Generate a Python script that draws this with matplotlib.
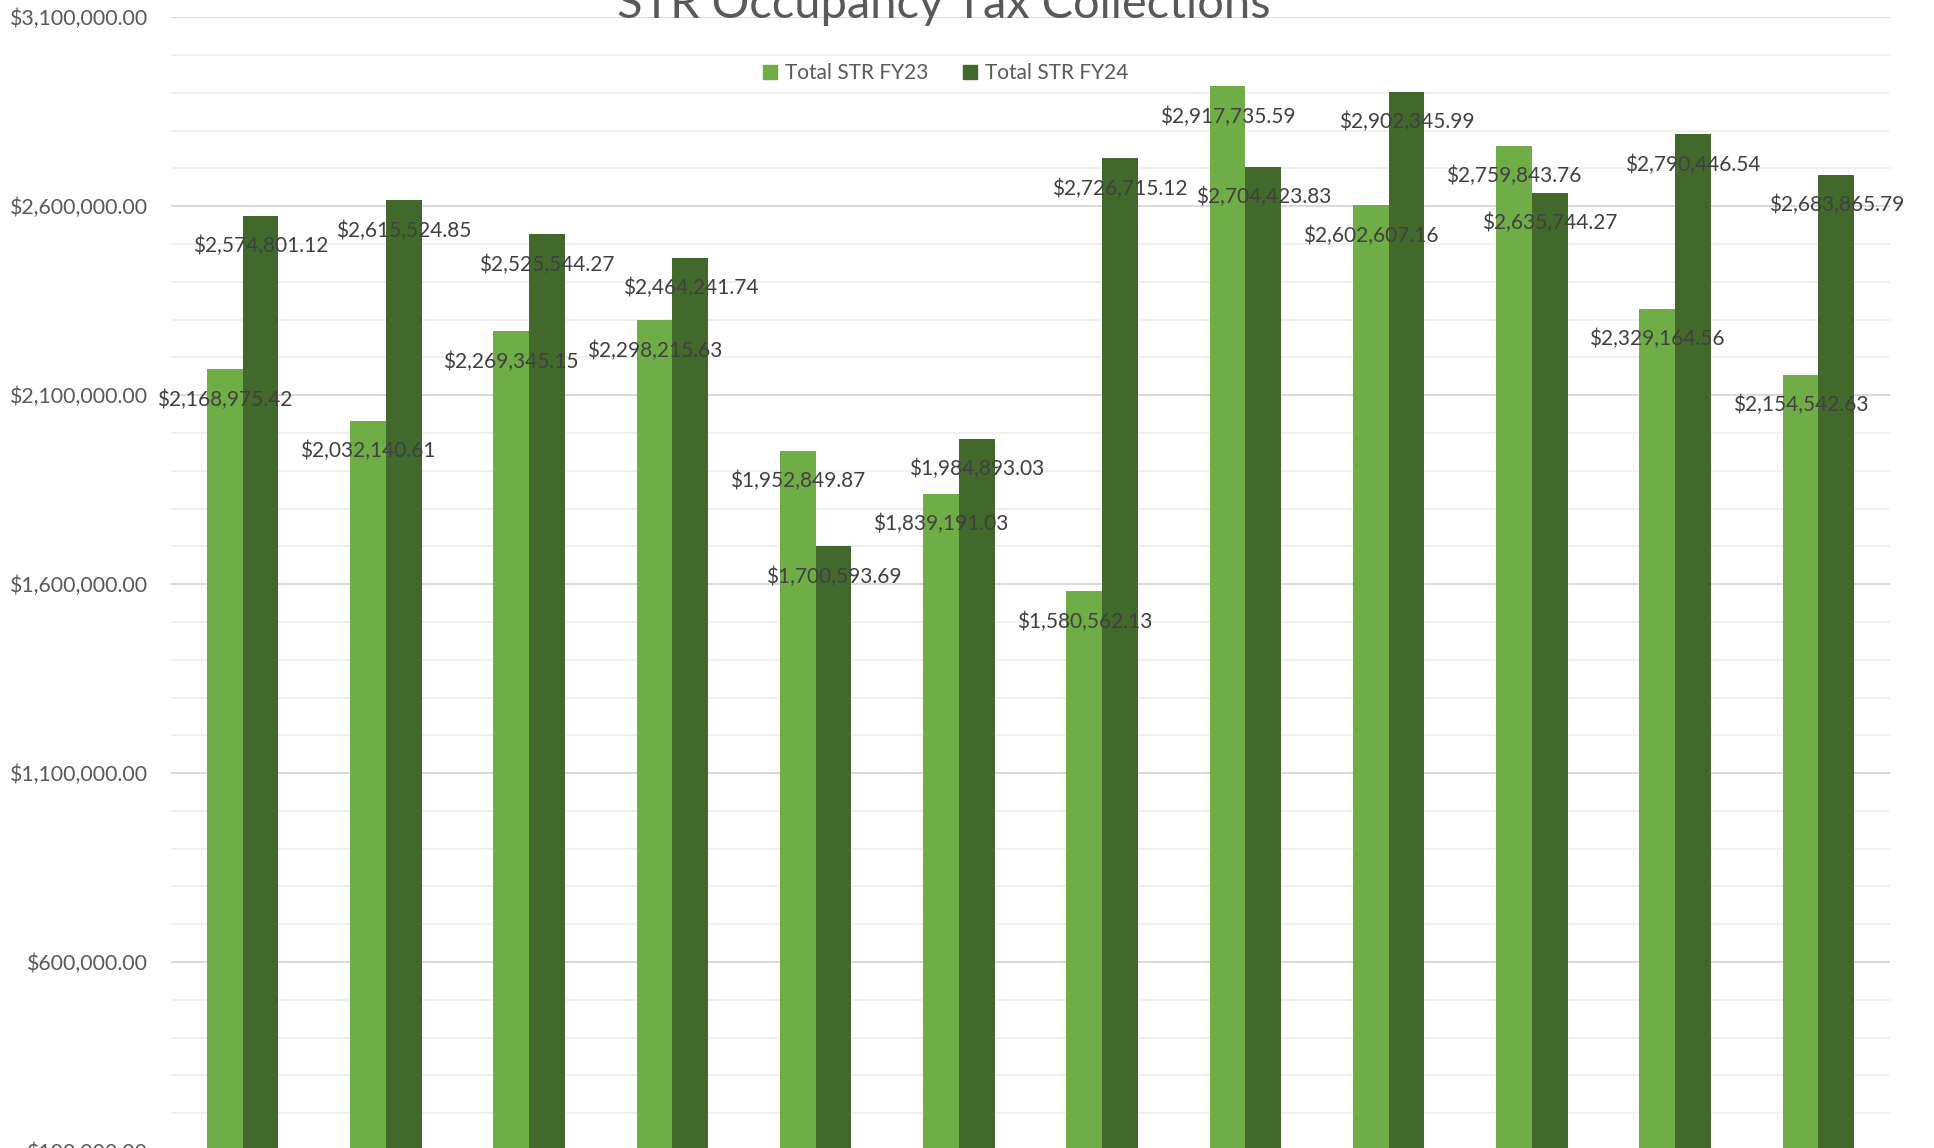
import matplotlib
matplotlib.use("Agg")
import matplotlib.pyplot as plt
from matplotlib.ticker import MultipleLocator, FuncFormatter
from matplotlib.lines import Line2D
import numpy as np

months = ["Jul", "Aug", "Sep", "Oct", "Nov", "Dec", "Jan", "Feb", "Mar", "Apr", "May", "Jun"]
fy23 = [2168975.42, 2032140.61, 2269345.15, 2298215.63, 1952849.87, 1839191.03,
        1580562.13, 2917735.59, 2602607.16, 2759843.76, 2329164.56, 2154542.63]
fy24 = [2574801.12, 2615524.85, 2525544.27, 2464241.74, 1700593.69, 1984893.03,
        2726715.12, 2704423.83, 2902345.99, 2635744.27, 2790446.54, 2683865.79]
series_names = ["Total STR FY23", "Total STR FY24"]
chart_title = "STR Occupancy Tax Collections"

C23 = "#70AD47"
C24 = "#43682B"
GRAY = "#595959"
LBL = "#404040"

plt.rcParams['font.family'] = ['Lato', 'DejaVu Sans']

fig = plt.figure(figsize=(19.34, 11.48), dpi=100)
fig.patch.set_facecolor("white")
ax = fig.add_axes([171 / 1934, 1 - 1151 / 1148, (1890 - 171) / 1934, (1151 - 17.3) / 1148])

x = np.arange(len(months))
w = 0.25
ax.bar(x - w / 2, fy23, w, color=C23, zorder=3)
ax.bar(x + w / 2, fy24, w, color=C24, zorder=3)

for xs, vals in ((x - w / 2, fy23), (x + w / 2, fy24)):
    for xc, v in zip(xs, vals):
        ax.annotate(f"${v:,.2f}", (xc, v), xytext=(0, -21.8), textcoords="offset points",
                    ha="center", va="center", fontsize=15, color=LBL, zorder=5)

ax.set_xlim(-0.5, len(months) - 0.5)
ax.set_ylim(100000, 3100000)
ax.yaxis.set_major_locator(MultipleLocator(500000, offset=100000))
ax.yaxis.set_minor_locator(MultipleLocator(100000))
ax.yaxis.set_major_formatter(FuncFormatter(lambda v, p: f"${v:,.2f}"))
ax.set_xticks(x, months)
ax.tick_params(axis="y", which="both", length=0, pad=16.5, labelsize=15.3, labelcolor=GRAY)
ax.tick_params(axis="x", length=0, labelbottom=False)
ax.grid(axis="y", which="major", color="#d9d9d9", lw=1.4, zorder=0)
ax.grid(axis="y", which="minor", color="#f0f0f0", lw=1.4, zorder=0)
for s in ax.spines.values():
    s.set_visible(False)

fig.text(944 / 1934, 1 - 18.5 / 1148, chart_title, ha="center", va="baseline",
         fontsize=33.8, color=GRAY)

handles = [Line2D([], [], marker="s", linestyle="none", markersize=10, color=c) for c in (C23, C24)]
fig.legend(handles, series_names, loc="center", bbox_to_anchor=(945 / 1934, 1 - 73 / 1148),
           ncol=2, frameon=False, fontsize=15, labelcolor=GRAY, handletextpad=0.3,
           columnspacing=1.6, handlelength=0.8)

fig.savefig("out.png", dpi=100, facecolor="white")
